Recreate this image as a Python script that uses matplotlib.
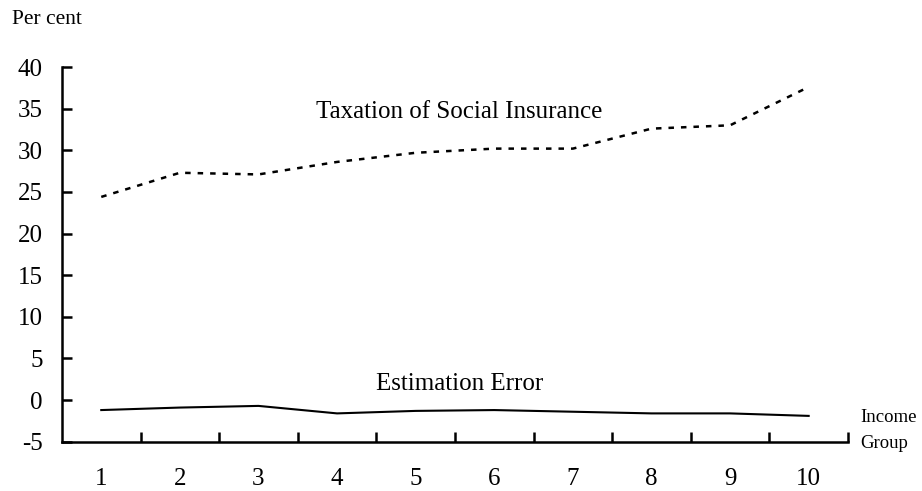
import numpy as np
import matplotlib
matplotlib.use("Agg")
import matplotlib.pyplot as plt

plt.rcParams['font.family'] = ['Liberation Serif', 'DejaVu Serif']

# income groups 1..10
groups = [1, 2, 3, 4, 5, 6, 7, 8, 9, 10]
taxation = [24.4, 27.3, 27.1, 28.6, 29.7, 30.2, 30.2, 32.6, 33.0, 37.6]
est_error = [-1.2, -0.9, -0.7, -1.6, -1.3, -1.2, -1.4, -1.6, -1.6, -1.9]
yticks = [-5, 0, 5, 10, 15, 20, 25, 30, 35, 40]

fig = plt.figure(figsize=(9.22, 4.91), dpi=100)
ax = fig.add_axes([0.0672, 0.1004, 0.8525, 0.7631])

ax.plot(groups, taxation, color='black', lw=1.8, linestyle=(0, (2.2, 2.8)))
ax.plot(groups, est_error, color='black', lw=1.5)

ax.set_xlim(0.5, 10.5)
ax.set_ylim(-5, 40)
ax.spines['top'].set_visible(False)
ax.spines['right'].set_visible(False)
ax.spines['left'].set_linewidth(1.8)
ax.spines['bottom'].set_linewidth(1.8)

# tick marks between groups, labels at group centres
ax.set_xticks(np.arange(1.5, 10.6, 1))
ax.set_xticklabels([])
ax.tick_params(axis='x', which='major', direction='in', length=7, width=1.8)
ax.set_xticks(groups, minor=True)
ax.set_xticklabels([str(g) for g in groups], minor=True)
ax.tick_params(axis='x', which='minor', length=0, pad=19, labelsize=18)

ax.set_yticks(yticks)
ax.set_yticklabels([str(v) for v in yticks])
ax.tick_params(axis='y', direction='in', length=7, width=1.8, pad=14, labelsize=18)

ax.text(5.56, 34.6, 'Taxation of Social Insurance', fontsize=18, ha='center', va='center')
ax.text(5.56, 1.9, 'Estimation Error', fontsize=18, ha='center', va='center')

fig.text(12 / 922, 1 - 20 / 491, 'Per cent', fontsize=15.5, ha='left', va='center')
fig.text(860 / 922, 1 - 417 / 491, 'Income', fontsize=13.5, ha='left', va='center')
fig.text(860 / 922, 1 - 444 / 491, 'Group', fontsize=13.5, ha='left', va='center')

fig.savefig('out.png', dpi=100)
